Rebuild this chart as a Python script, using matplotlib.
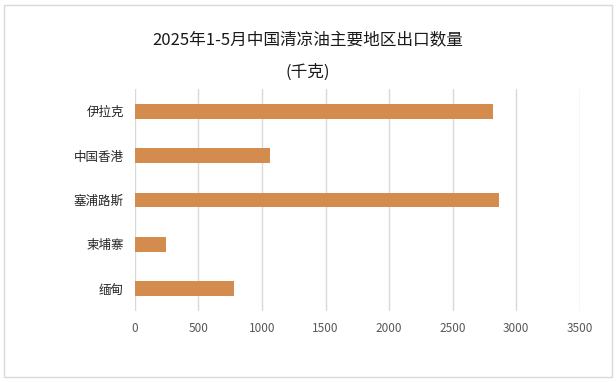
import matplotlib.pyplot as plt
from matplotlib.patches import Rectangle

plt.rcParams["font.family"] = ["Noto Sans CJK SC", "DejaVu Sans"]

# data, top to bottom as drawn
regions = ["伊拉克", "中国香港", "塞浦路斯", "柬埔寨", "缅甸"]
export_kg = [2816, 1063, 2866, 244, 780]
x_ticks = [0, 500, 1000, 1500, 2000, 2500, 3000, 3500]

fig = plt.figure(figsize=(6.16, 3.82), dpi=100)
ax = fig.add_axes([0.219, 0.186, 0.722, 0.581])

pos = list(range(len(regions)))[::-1]
ax.barh(pos, export_kg, height=0.33, color="#D48C4E", zorder=3)

ax.set_xlim(0, 3500)
ax.set_ylim(-0.5, len(regions) - 0.5)
ax.set_xticks(x_ticks)
ax.set_xticklabels([str(t) for t in x_ticks])
ax.set_yticks(pos)
ax.set_yticklabels(regions)

ax.grid(axis="x", color="#d9d9d9", linewidth=1, zorder=0)
for s in ax.spines.values():
    s.set_visible(False)
ax.tick_params(axis="x", length=0, labelsize=8.5, labelcolor="#595959", pad=8)
ax.tick_params(axis="y", length=0, labelsize=9, labelcolor="#262626", pad=8)

fig.text(0.5, 0.895, "2025年1-5月中国清凉油主要地区出口数量", ha="center", va="center",
         fontsize=12, color="#1a1a1a")
fig.text(0.5, 0.81, "(千克)", ha="center", va="center", fontsize=12, color="#1a1a1a")

# thin frame round the whole picture
fig.patches.append(Rectangle((0.006, 0.012), 0.987, 0.975, transform=fig.transFigure,
                             fill=False, edgecolor="#d9d9d9", linewidth=1))

fig.savefig("out.png", dpi=100)
plt.close(fig)
